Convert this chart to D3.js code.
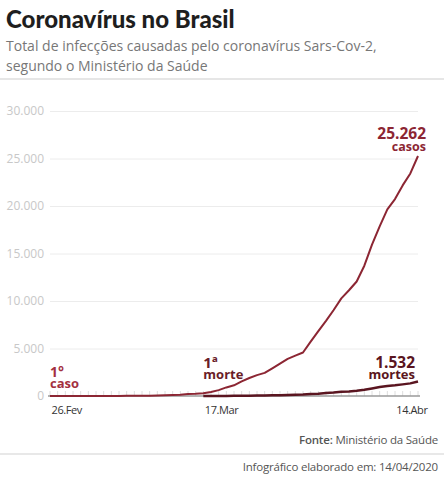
<!DOCTYPE html>
<html>
<head>
<meta charset="utf-8">
<script src="https://cdn.jsdelivr.net/npm/d3@7"></script>
<style>
  html, body { margin: 0; padding: 0; background: #fff; }
  svg { display: block; font-family: "Open Sans", sans-serif; }
  .title { font-family: "Lato", sans-serif; font-weight: 900; font-size: 24px; fill: #1e1e1e; }
  .subtitle { font-size: 14px; fill: #777; }
  .ylab { font-size: 12px; fill: #c8c8c8; }
  .xlab { font-size: 11px; fill: #333; letter-spacing: -0.4px; }
  .note { font-size: 11.5px; fill: #555; letter-spacing: -0.2px; }
</style>
</head>
<body>
<script>
/** chart data */
const dates = [
  "2020-02-26", "2020-02-27", "2020-02-28", "2020-02-29", "2020-03-01", "2020-03-02",
  "2020-03-03", "2020-03-04", "2020-03-05", "2020-03-06", "2020-03-07", "2020-03-08",
  "2020-03-09", "2020-03-10", "2020-03-11", "2020-03-12", "2020-03-13", "2020-03-14",
  "2020-03-15", "2020-03-16", "2020-03-17", "2020-03-18", "2020-03-19", "2020-03-20",
  "2020-03-21", "2020-03-22", "2020-03-23", "2020-03-24", "2020-03-25", "2020-03-26",
  "2020-03-27", "2020-03-28", "2020-03-29", "2020-03-30", "2020-03-31", "2020-04-01",
  "2020-04-02", "2020-04-03", "2020-04-04", "2020-04-05", "2020-04-06", "2020-04-07",
  "2020-04-08", "2020-04-09", "2020-04-10", "2020-04-11", "2020-04-12", "2020-04-13",
  "2020-04-14"
];
const casos = [
  1, 1, 1, 2, 2, 2,
  2, 3, 8, 13, 19, 25,
  25, 34, 52, 77, 98, 121,
  200, 234, 291, 428, 621, 904,
  1128, 1546, 1891, 2201, 2433, 2915,
  3417, 3904, 4256, 4579, 5717, 6836,
  7910, 9056, 10278, 11130, 12056, 13717,
  15927, 17857, 19638, 20727, 22169, 23430,
  25262
];
// deaths start on 17.Mar (index 20)
const mortes = [
  1, 4, 7, 11, 18, 25, 34, 46, 57, 77,
  92, 111, 136, 159, 201, 240, 324, 359, 445, 486,
  553, 667, 800, 941, 1056, 1124, 1223, 1328, 1532
];
const yTicks = [0, 5000, 10000, 15000, 20000, 25000, 30000];
const xTicks = ["2020-02-26", "2020-03-17", "2020-04-14"];
const monthNames = ["Jan", "Fev", "Mar", "Abr"];

const width = 444;
const height = 480;
const corCasos = "#8c2633";
const corMortes = "#5a1520";

const parse = d3.timeParse("%Y-%m-%d");
const fmt = d3.format(",.0f");
const ptBR = (v) => fmt(v).replace(/,/g, ".");

var casosData = dates.map((d, i) => ({ date: parse(d), value: casos[i] }));
var mortesData = mortes.map((v, i) => ({ date: parse(dates[20 + i]), value: v }));

var svg = d3.select("body").append("svg")
  .attr("width", width)
  .attr("height", height);

/** header */
svg.append("text").attr("class", "title").attr("x", 6).attr("y", 28)
  .text("Coronavírus no Brasil");
svg.append("text").attr("class", "subtitle").attr("x", 6).attr("y", 51)
  .text("Total de infecções causadas pelo coronavírus Sars-Cov-2,");
svg.append("text").attr("class", "subtitle").attr("x", 6).attr("y", 71)
  .text("segundo o Ministério da Saúde");
svg.append("line").attr("x1", 0).attr("x2", width).attr("y1", 79).attr("y2", 79)
  .attr("stroke", "#e6e6e6").attr("stroke-width", 2);

/** scales */
var x_scale = d3.scaleTime()
  .domain([parse(dates[0]), parse(dates[dates.length - 1])])
  .range([50, 418]);
var y_scale = d3.scaleLinear()
  .domain([0, 30000])
  .range([396, 111]);

// gridlines + y labels
var yAxis = d3.axisLeft(y_scale)
  .tickValues(yTicks)
  .tickSize(-(418 - 50))
  .tickPadding(6)
  .tickFormat(ptBR);
var gy = svg.append("g").attr("transform", "translate(50,0)").call(yAxis);
gy.select(".domain").remove();
gy.selectAll(".tick line").attr("stroke", "#ececec").attr("stroke-width", 1)
  .filter((d) => d === 0).remove();
gy.selectAll(".tick text").attr("class", "ylab").attr("x", -6);
gy.attr("font-family", null).attr("font-size", null);

// daily ticks along the baseline
var dayTicks = d3.timeDay.range(parse(dates[0]), d3.timeDay.offset(parse(dates[dates.length - 1]), 1));
svg.append("g").selectAll("line")
  .data(dayTicks)
  .enter()
  .append("line")
  .attr("x1", (d) => x_scale(d)).attr("x2", (d) => x_scale(d))
  .attr("y1", y_scale(0)).attr("y2", y_scale(0) - 5)
  .attr("stroke", "#dedede").attr("stroke-width", 1);

// x axis baseline + labels
var xAxis = d3.axisBottom(x_scale)
  .tickValues(xTicks.map(parse))
  .tickSize(0)
  .tickPadding(10)
  .tickFormat((d) => d.getDate() + "." + monthNames[d.getMonth()]);
var gx = svg.append("g").attr("transform", "translate(0," + y_scale(0) + ")").call(xAxis);
gx.select(".domain").attr("stroke", "#9a9a9a").attr("stroke-width", 1.5)
  .attr("d", "M48,0H420");
gx.attr("font-family", null).attr("font-size", null);
gx.selectAll(".tick text").attr("class", "xlab")
  .attr("text-anchor", (d, i) => i === 2 ? "end" : "start")
  .attr("dx", (d, i) => i === 2 ? 9 : 1);

/** lines */
var line = d3.line()
  .x((d) => x_scale(d.date))
  .y((d) => y_scale(d.value))
  .curve(d3.curveLinear);

svg.append("path").datum(casosData)
  .attr("fill", "none").attr("stroke", corCasos).attr("stroke-width", 2)
  .attr("stroke-linejoin", "round").attr("d", line);
svg.append("path").datum(mortesData)
  .attr("fill", "none").attr("stroke", corMortes).attr("stroke-width", 2.5)
  .attr("stroke-linejoin", "round").attr("d", line);

/** annotations: two stacked lines in one text */
function label(xp, yp, top, bottom, sizeTop, sizeBottom, gap, color, anchor) {
  var t = svg.append("text")
    .attr("x", xp).attr("y", yp)
    .attr("text-anchor", anchor)
    .style("font-family", "'Open Sans', sans-serif")
    .style("font-weight", 700)
    .attr("fill", color);
  t.append("tspan").attr("x", xp).style("font-size", sizeTop + "px").text(top);
  t.append("tspan").attr("x", xp).attr("dy", gap).style("font-size", sizeBottom + "px").text(bottom);
}
var lastC = casosData[casosData.length - 1];
var lastM = mortesData[mortesData.length - 1];
label(x_scale(lastC.date) + 8, 139, ptBR(lastC.value), "casos", 15.5, 12.5, 12, corCasos, "end");
label(x_scale(lastM.date) - 3, 368, ptBR(lastM.value), "mortes", 15.5, 13, 11, corMortes, "end");
label(x_scale(casosData[0].date), 377, "1°", "caso", 14, 13, 11, "#a3303f", "start");
label(x_scale(mortesData[0].date), 368, "1ª", "morte", 15, 13, 11, "#6a1d28", "start");

/** footer */
var f1 = svg.append("text").attr("class", "note").attr("x", 438).attr("y", 444)
  .attr("text-anchor", "end");
f1.append("tspan").style("font-weight", 600).text("Fonte: ");
f1.append("tspan").text("Ministério da Saúde");
svg.append("line").attr("x1", 0).attr("x2", width).attr("y1", 454).attr("y2", 454)
  .attr("stroke", "#e0e0e0").attr("stroke-width", 1.5);
var f2 = svg.append("text").attr("class", "note").attr("x", 438).attr("y", 471)
  .attr("text-anchor", "end");
f2.append("tspan").text("Infográfico elaborado em: ");
f2.append("tspan").text("14/04/2020");
</script>
</body>
</html>
